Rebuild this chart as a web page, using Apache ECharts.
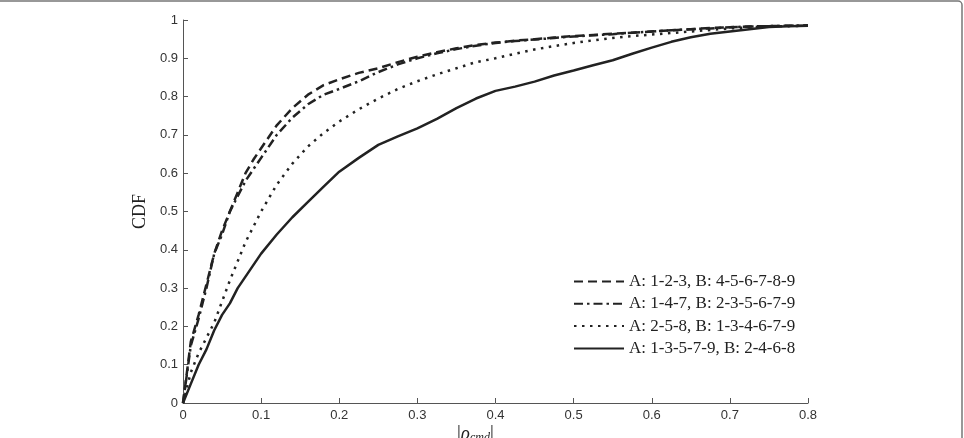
<!DOCTYPE html>
<html>
<head>
<meta charset="utf-8">
<script src="https://cdn.jsdelivr.net/npm/echarts@6/dist/echarts.min.js"></script>
<style>
  html, body { margin: 0; padding: 0; background: #fff; }
  #chart { width: 964px; height: 438px; }
</style>
</head>
<body>
<div id="chart"></div>
<script>
// |rho_cmd| sample points, shared by all curves
const rho = [0, 0.01, 0.02, 0.03, 0.04, 0.05, 0.06, 0.07, 0.08, 0.09, 0.1,
  0.12, 0.14, 0.16, 0.18, 0.2,
  0.225, 0.25, 0.275, 0.3, 0.325, 0.35, 0.375, 0.4, 0.425, 0.45, 0.475, 0.5,
  0.525, 0.55, 0.575, 0.6, 0.625, 0.65, 0.675, 0.7, 0.725, 0.75, 0.775, 0.8]

const cdf123 = [0, 0.16, 0.23, 0.31, 0.39, 0.45, 0.5, 0.55, 0.6, 0.635, 0.665,
  0.725, 0.77, 0.805, 0.83, 0.845,
  0.862, 0.874, 0.89, 0.904, 0.916, 0.926, 0.935, 0.941, 0.946, 0.95, 0.954, 0.958,
  0.961, 0.964, 0.967, 0.97, 0.973, 0.976, 0.979, 0.981, 0.983, 0.984, 0.985, 0.985]

const cdf147 = [0, 0.15, 0.22, 0.3, 0.39, 0.44, 0.5, 0.54, 0.58, 0.61, 0.64,
  0.7, 0.745, 0.78, 0.805, 0.82,
  0.84, 0.864, 0.884, 0.9, 0.913, 0.924, 0.933, 0.94, 0.945, 0.949, 0.953, 0.957,
  0.96, 0.963, 0.967, 0.97, 0.973, 0.976, 0.978, 0.981, 0.983, 0.984, 0.985, 0.986]

const cdf258 = [0, 0.08, 0.13, 0.17, 0.21, 0.265, 0.32, 0.37, 0.42, 0.46, 0.5,
  0.57, 0.625, 0.67, 0.705, 0.735,
  0.767, 0.795, 0.82, 0.84, 0.858, 0.874, 0.89, 0.9, 0.912, 0.923, 0.932, 0.94,
  0.947, 0.953, 0.958, 0.962, 0.966, 0.97, 0.974, 0.978, 0.981, 0.983, 0.984, 0.985]

const cdf13579 = [0, 0.05, 0.1, 0.14, 0.19, 0.23, 0.26, 0.3, 0.33, 0.36, 0.39,
  0.44, 0.485, 0.525, 0.565, 0.604,
  0.64, 0.674, 0.696, 0.717, 0.742, 0.77, 0.795, 0.815, 0.826, 0.839, 0.855, 0.868,
  0.882, 0.895, 0.912, 0.928, 0.943, 0.955, 0.964, 0.97, 0.976, 0.982, 0.984, 0.985]

const names = [
  'A: 1-2-3, B: 4-5-6-7-8-9',
  'A: 1-4-7, B: 2-3-5-6-7-9',
  'A: 2-5-8, B: 1-3-4-6-7-9',
  'A: 1-3-5-7-9, B: 2-4-6-8'
]

const pairs = ys => rho.map((x, i) => [x, ys[i]])

const lineColor = '#222'
const serif = '"Liberation Serif", "DejaVu Serif", serif'
const sans = '"Liberation Sans", Arial, sans-serif'

const chart = echarts.init(document.getElementById('chart'))

const mkSeries = (name, ys, type, width) => ({
  name,
  type: 'line',
  data: pairs(ys),
  symbol: 'none',
  smooth: false,
  lineStyle: { color: lineColor, width, type },
  itemStyle: { color: lineColor }
})

const opt = {
  animation: false,
  backgroundColor: '#fff',
  grid: { left: 183, right: 156, top: 20, bottom: 35 },
  legend: {
    orient: 'vertical',
    left: 568,
    top: 268,
    itemWidth: 50,
    itemHeight: 14,
    itemGap: 5.3,
    itemStyle: { opacity: 0 },
    textStyle: { fontFamily: serif, fontSize: 17, color: '#222' },
    data: names
  },
  xAxis: {
    type: 'value',
    min: 0,
    max: 0.8,
    interval: 0.1,
    axisLine: { onZero: false, lineStyle: { color: '#555', width: 1 } },
    axisTick: { inside: true, length: 5, lineStyle: { color: '#555' } },
    axisLabel: { fontFamily: sans, fontSize: 13, color: '#333', margin: 6 },
    splitLine: { show: false }
  },
  yAxis: {
    type: 'value',
    min: 0,
    max: 1,
    interval: 0.1,
    name: 'CDF',
    nameLocation: 'middle',
    nameGap: 27,
    nameTextStyle: { fontFamily: serif, fontSize: 18, color: '#222' },
    axisLine: { show: true, lineStyle: { color: '#555', width: 1 } },
    axisTick: { show: true, inside: true, length: 5, lineStyle: { color: '#555' } },
    axisLabel: { fontFamily: sans, fontSize: 13, color: '#333', margin: 5 },
    splitLine: { show: false }
  },
  series: [
    mkSeries(names[0], cdf123, [9, 5], 2.5),
    mkSeries(names[1], cdf147, [9, 4, 2.5, 4], 2.5),
    mkSeries(names[2], cdf258, [2.5, 5.5], 2.5),
    mkSeries(names[3], cdf13579, 'solid', 2.5)
  ],
  graphic: [
    {
      type: 'rect',
      silent: true,
      shape: { x: -10, y: 1, width: 972, height: 460, r: 4 },
      style: { fill: 'none', stroke: '#777', lineWidth: 1.5 }
    },
    {
      type: 'text',
      left: 457,
      top: 424,
      style: {
        text: '{b||}{r|ρ}{s|cmd}{b||}',
        rich: {
          b: { fontFamily: serif, fontSize: 19, fill: '#222' },
          r: { fontFamily: serif, fontSize: 19, fontStyle: 'italic', fill: '#222' },
          s: { fontFamily: serif, fontSize: 12, fontStyle: 'italic', fill: '#222', verticalAlign: 'bottom', padding: [8, 0, 0, 0] }
        }
      }
    }
  ]
}

chart.setOption(opt)
</script>
</body>
</html>
